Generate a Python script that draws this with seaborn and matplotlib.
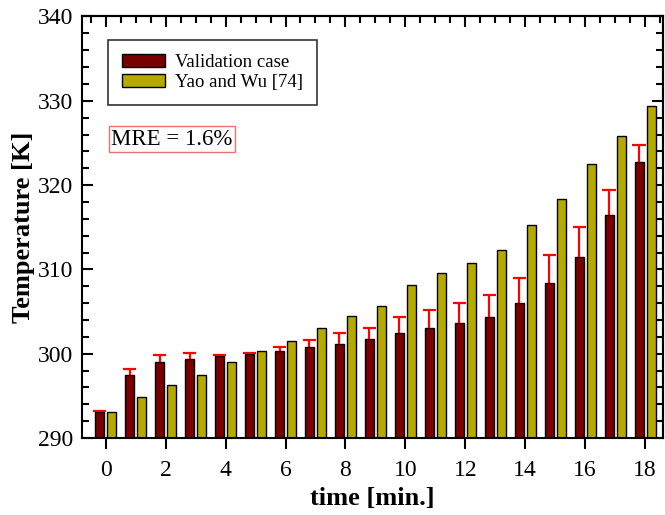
import numpy as np
import pandas as pd
import matplotlib
matplotlib.use("Agg")
import matplotlib.pyplot as plt
import seaborn as sns
from matplotlib.ticker import MultipleLocator

# data
time_min = list(range(0, 19))
validation = [293.1, 297.5, 299.0, 299.4, 299.7, 300.0, 300.3, 300.8, 301.2, 301.8,
              302.4, 303.0, 303.7, 304.4, 306.0, 308.4, 311.5, 316.4, 322.7]
validation_err = [0.1, 0.7, 0.8, 0.7, 0.2, 0.1, 0.5, 0.8, 1.2, 1.3,
                  1.9, 2.2, 2.3, 2.6, 3.0, 3.3, 3.5, 3.0, 2.0]
yao_wu = [293.1, 294.9, 296.3, 297.5, 299.0, 300.3, 301.5, 303.0, 304.5, 305.6,
          308.2, 309.6, 310.8, 312.3, 315.3, 318.4, 322.5, 325.8, 329.4]
series_names = ["Validation case", "Yao and Wu [74]"]
bar_colors = ["#780000", "#B5AA00"]

df = pd.DataFrame({
    "time": time_min * 2,
    "temp": validation + yao_wu,
    "case": [series_names[0]] * len(time_min) + [series_names[1]] * len(time_min),
})

sns.set_style("ticks")
plt.rcParams["font.family"] = ["Liberation Serif", "DejaVu Serif"]
plt.rcParams["axes.linewidth"] = 1.5
for key in ["text.color", "axes.labelcolor", "xtick.color", "ytick.color", "axes.edgecolor"]:
    plt.rcParams[key] = "black"

fig = plt.figure(figsize=(6.65, 5.15), dpi=100)
ax = fig.add_axes([0.123, 0.1495, 0.874, 0.8185])

sns.barplot(data=df, x="time", y="temp", hue="case", native_scale=True,
            palette=bar_colors, saturation=1, width=0.8, gap=0.25, edgecolor="black",
            linewidth=1.0, errorbar=None, ax=ax)

# one-sided red error bars on the validation bars (upper cap only)
x_val = np.array(time_min) - 0.2
err_top = np.array(validation) + np.array(validation_err)
ax.vlines(x_val, validation, err_top, color="red", linewidth=1.6, zorder=5)
ax.hlines(err_top, x_val - 0.22, x_val + 0.22, color="red", linewidth=1.6, zorder=5)

ax.set_xlim(-0.8, 18.6)
ax.set_ylim(290, 340)
ax.xaxis.set_major_locator(MultipleLocator(2))
ax.yaxis.set_major_locator(MultipleLocator(10))
ax.yaxis.set_minor_locator(MultipleLocator(2))
ax.tick_params(axis="x", which="major", direction="out", length=8, width=1.5,
               labelsize=17, pad=8)
ax.tick_params(axis="y", which="major", direction="in", length=8, width=1.5,
               labelsize=17, pad=6)
ax.tick_params(axis="y", which="minor", direction="in", length=5, width=1.5)

# top and right ticks, pointing inward
top = ax.secondary_xaxis("top")
top.xaxis.set_major_locator(MultipleLocator(2))
top.xaxis.set_minor_locator(MultipleLocator(0.5))
top.tick_params(which="major", direction="in", length=8, width=1.5, labeltop=False)
top.tick_params(which="minor", direction="in", length=5, width=1.5)
right = ax.secondary_yaxis("right")
right.yaxis.set_major_locator(MultipleLocator(10))
right.yaxis.set_minor_locator(MultipleLocator(2))
right.tick_params(which="major", direction="in", length=8, width=1.5, labelright=False)
right.tick_params(which="minor", direction="in", length=5, width=1.5)

ax.set_xlabel("time [min.]", fontsize=19, fontweight="bold", labelpad=4)
ax.set_ylabel("Temperature [K]", fontsize=19, fontweight="bold", labelpad=2)

leg = ax.legend(loc="upper left", bbox_to_anchor=(0.045, 0.944), borderaxespad=0,
                fontsize=13.5, frameon=True, fancybox=False, edgecolor="black",
                handlelength=2.3, handleheight=0.7, handletextpad=0.5,
                borderpad=0.75, labelspacing=0.15)
leg.get_frame().set_linewidth(1.2)

ax.text(0.05, 0.709, "MRE = 1.6%", transform=ax.transAxes, fontsize=16.5,
        va="center", ha="left",
        bbox=dict(boxstyle="square,pad=0.1", facecolor="white", edgecolor="#F07070", linewidth=1.0))

fig.savefig("out.png", dpi=100)
